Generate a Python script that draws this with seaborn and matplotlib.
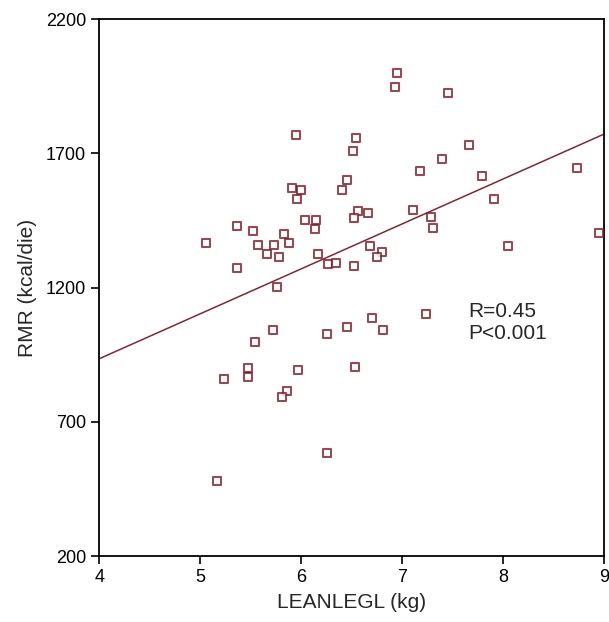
import matplotlib
matplotlib.use("Agg")
import matplotlib.pyplot as plt
import pandas as pd
import seaborn as sns

# LEANLEGL (kg) vs RMR (kcal/die)
leanlegl = [5.95, 6.54, 6.51, 6.45, 6.40, 5.91, 6.00, 5.96, 6.56, 6.66,
            6.52, 6.04, 6.15, 6.14, 5.36, 5.52, 5.83, 5.06, 5.57, 5.73,
            5.88, 5.66, 5.78, 6.17, 6.68, 6.80, 6.75, 6.27, 6.34, 6.52,
            5.36, 5.76, 6.70,
            6.95, 6.93, 7.45, 7.66, 7.39, 7.18, 7.79, 8.73, 7.91, 7.11,
            7.29, 7.31, 8.05, 8.95,
            5.72, 5.54, 6.26, 6.45, 6.81, 5.47, 5.47, 5.24, 5.97, 6.53,
            5.86, 5.81, 6.26, 5.17, 7.24]
rmr = [1770, 1757, 1709, 1603, 1564, 1572, 1564, 1531, 1486, 1479,
       1459, 1453, 1453, 1419, 1431, 1413, 1400, 1365, 1359, 1359,
       1367, 1327, 1315, 1327, 1354, 1333, 1313, 1287, 1293, 1279,
       1275, 1203, 1087,
       1999, 1946, 1925, 1731, 1678, 1633, 1617, 1645, 1531, 1491,
       1465, 1424, 1357, 1402,
       1041, 999, 1027, 1053, 1041, 901, 866, 859, 893, 906,
       814, 792, 584, 478, 1102]

x_ticks = [4, 5, 6, 7, 8, 9]
y_ticks = [200, 700, 1200, 1700, 2200]
stats_text = "R=0.45\nP<0.001"

df = pd.DataFrame({"LEANLEGL": leanlegl, "RMR": rmr})

sns.set_style("ticks")
plt.rcParams["font.family"] = ["Liberation Sans", "DejaVu Sans"]

fig = plt.figure(figsize=(6.09, 6.22), dpi=100)
ax = fig.add_axes([0.163, 0.106, 0.829, 0.863])
ax.set_xlim(4, 9)
ax.set_ylim(200, 2200)

sns.regplot(data=df, x="LEANLEGL", y="RMR", ax=ax, ci=None, truncate=False,
            marker="s",
            scatter_kws=dict(s=28, facecolors="white", edgecolors="#74202c",
                             linewidths=1.5, zorder=3),
            line_kws=dict(color="#7b2a35", linewidth=1.1, zorder=2))

ax.set_xlim(4, 9)
ax.set_ylim(200, 2200)
ax.set_xticks(x_ticks)
ax.set_yticks(y_ticks)
ax.tick_params(axis="both", direction="out", length=6, width=1.2,
               labelsize=13, colors="black")
for side in ["left", "bottom", "right", "top"]:
    ax.spines[side].set_visible(True)
    ax.spines[side].set_color("black")
    ax.spines[side].set_linewidth(1.3)

ax.set_xlabel("LEANLEGL (kg)", fontsize=15, labelpad=5)
ax.set_ylabel("RMR (kcal/die)", fontsize=15, labelpad=6)

ax.text(7.65, 1148, stats_text, fontsize=15, ha="left", va="top",
        linespacing=1.2)

fig.savefig("out.png", dpi=100)
